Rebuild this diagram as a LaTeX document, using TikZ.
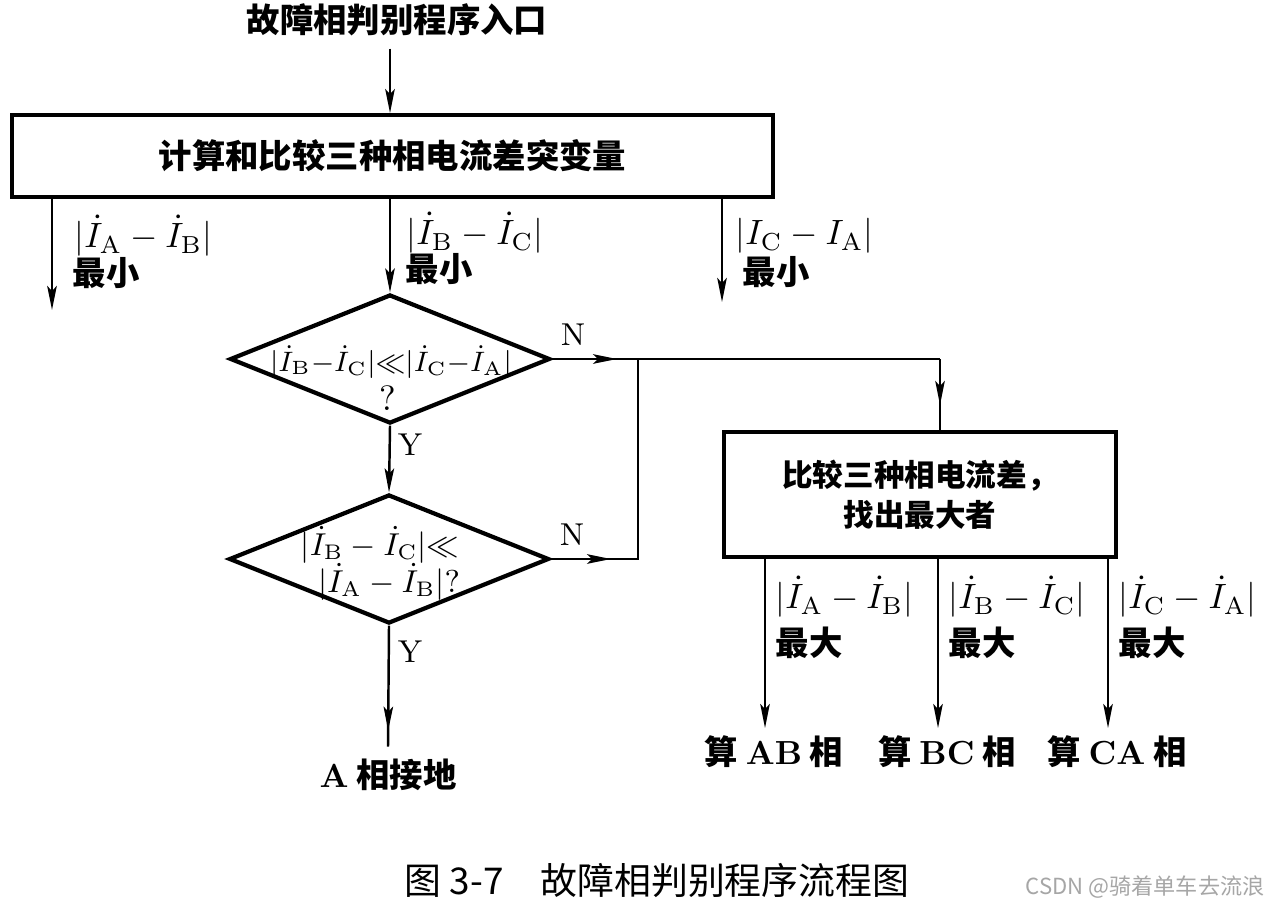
\documentclass[tikz,border=0pt]{standalone}
\usepackage{amsmath,amssymb}
\usepackage{fontspec}
\newfontfamily\cjk{Noto Sans CJK SC}
\usepackage{tikz}
\usetikzlibrary{arrows.meta,positioning,calc,shapes.geometric,decorations.markings}
\newcommand\Idot[1]{\dot{I}_{\mathrm{#1}}}

\begin{document}
\begin{tikzpicture}[x=0.1mm,y=-0.1mm,>={Stealth[length=2.4mm,width=0.95mm,inset=0.5mm]},
  proc/.style={draw,line width=1.1pt,inner sep=0pt},
  decide/.style={draw,diamond,line width=1.2pt,minimum width=32mm,minimum height=12.9mm,inner sep=0pt},
  flow/.style={line width=0.7pt},
  arr/.style={flow,->},
  tipat/.style={flow,decoration={markings,mark=at position #1 with {\arrow{>}}},postaction={decorate}},
  lbl/.style={anchor=west,inner sep=0pt,font=\fontsize{10}{12}\selectfont},
  yn/.style={inner sep=0pt,font=\fontsize{9}{11}\selectfont},
  zh/.style={font=\cjk\bfseries\fontsize{9.5}{12}\selectfont}]
  \useasboundingbox (0,0) rectangle (1264,905);

  % --- entry and first box ---
  \node[zh] (entry) at (397,20) {故障相判别程序入口};
  \node[proc,zh,minimum width=76.1mm,minimum height=8.2mm] (delta) at (392.5,156) {计算和比较三种相电流差突变量};
  \node[decide] (d1) at (390,359) {};
  \draw[arr] (d1.north |- entry.south) -- (d1.north |- delta.north);

  % --- three branches of the first box ---
  \coordinate (outAB) at (52,310);
  \coordinate (outCA) at (722,302);
  \draw[arr] (outAB |- delta.south) -- (outAB);
  \draw[arr] (d1.north |- delta.south) -- (d1.north);
  \draw[arr] (outCA |- delta.south) -- (outCA);
  \node[lbl] (minlabAB) at (74,236) {$|\Idot A - \Idot B|$};
  \node[lbl,zh] (minAB) at (72,273) {最小};
  \node[lbl] (minlabBC) at (406,233) {$|\Idot B - \Idot C|$};
  \node[lbl,zh] (minBC) at (405,269) {最小};
  \node[lbl] (minlabCA) at (735,236) {$|I_{\mathrm C} - I_{\mathrm A}|$};
  \node[lbl,zh] (minCA) at (742,272) {最小};

  % --- decisions ---
  \node[lbl,anchor=center,font=\fontsize{7.8}{9}\selectfont] (q1) at (391,362)
    {$|\Idot B{-}\Idot C|{\ll}|\Idot C{-}\Idot A|$};
  \node[lbl,anchor=center] (q1m) at (388,398) {?};
  \node[decide] (d2) at (389,559) {};
  \node[lbl,anchor=center,font=\fontsize{9}{11}\selectfont] (q2a) at (380,545) {$|\Idot B - \Idot C|{\ll}$};
  \node[lbl,anchor=center,font=\fontsize{9}{11}\selectfont] (q2b) at (389,582) {$|\Idot A - \Idot B|?$};
  \draw[arr] (d1.south) -- (d2.north);
  \node[yn] (y1) at (410,445) {Y};
  \node[yn] (n1) at (573,335) {N};
  \node[yn] (n2) at (572,535) {N};

  % --- A phase to ground ---
  \node[zh] (gnd) at (388,775) {{\rmfamily A} 相接地};
  \draw[tipat=10.5mm] (d2.south) -- (gnd.north);
  \node[yn] (y2) at (410,652) {Y};

  % --- second box ---
  \node[proc,zh,align=center,minimum width=39.2mm,minimum height=12.5mm,
        font=\cjk\bfseries\fontsize{8.7}{11.4}\selectfont] (cmp) at (920,494.5)
    {比较三种相电流差，\\找出最大者};
  \coordinate (join) at (638,359);
  \coordinate (turn) at (940,359);
  \draw[tipat=6.5mm] (d1.east) -- (join);
  \draw[flow] (join) -- (turn);
  \draw[tipat=4.6mm] (turn) -- (turn |- cmp.north);
  \draw[tipat=6mm] (d2.east) -- (d2.east -| join) -- (join);

  % --- three branches of the second box ---
  \foreach \xx/\pp/\qq in {765/A/B, 938/B/C, 1108/C/A}{
    \coordinate (end\pp\qq) at (\xx,728);
    \draw[arr] (end\pp\qq |- cmp.south) -- (end\pp\qq);
    \node[lbl] (maxlab\pp\qq) at (\xx+10,597) {$|\Idot\pp - \Idot\qq|$};
    \node[lbl,zh] (max\pp\qq) at (\xx+10,643) {最大};
    \node[zh] (calc\pp\qq) at (\xx+9,752) {算 {\rmfamily\pp\qq} 相};
  }

  % --- caption ---
  \node[font=\cjk\fontsize{10.5}{12}\selectfont] (caption) at (657,880) {图 3-7\quad 故障相判别程序流程图};
  \node[font=\cjk\fontsize{6.3}{8}\selectfont,text=gray!70] (mark) at (1145,887) {CSDN @骑着单车去流浪};
\end{tikzpicture}
\end{document}
